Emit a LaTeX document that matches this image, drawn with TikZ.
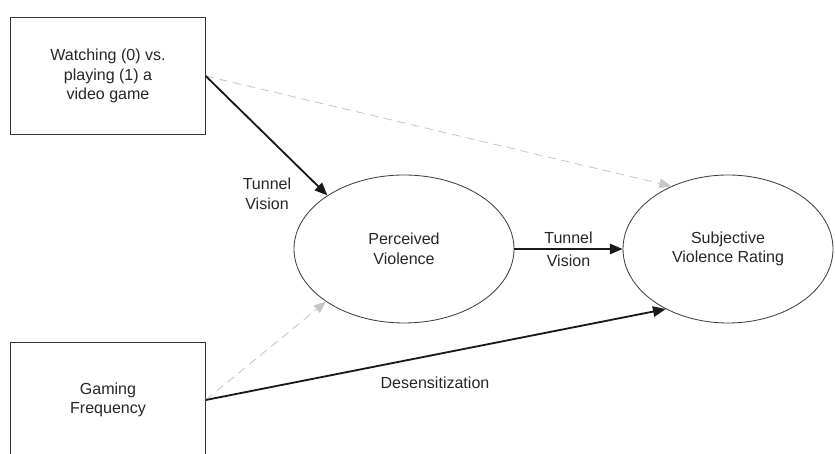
\documentclass[tikz,border=0pt]{standalone}
\usepackage{fontspec}
\setmainfont{Liberation Sans}
\usetikzlibrary{arrows.meta,shapes.geometric}

\begin{document}
\begin{tikzpicture}[
  caja/.style={draw=black!80, line width=0.7pt, minimum width=4.86cm, minimum height=2.9cm, align=center},
  elipse/.style={ellipse, draw=black!75, line width=0.6pt, minimum height=3.7cm, align=center},
  efecto/.style={-{Triangle[length=0.32cm,width=0.26cm]}, line width=1.3pt, black!90},
  nulo/.style={-{Triangle[length=0.3cm,width=0.24cm]}, line width=0.6pt, black!22, dash pattern=on 6pt off 4pt},
  etiqueta/.style={align=center, text=black!85},
  font=\fontsize{11.4}{13.9}\selectfont
]
	% Marco de la figura
	\useasboundingbox (0,0) rectangle (20.875,11.35);
	
	% Cajas de las variables observadas
	\node[caja, text=black!85] (juego) at (2.70,9.45) {Watching (0) vs.\\ playing (1) a\\ video game};
	\node[caja, text=black!85] (frecuencia) at (2.70,1.35) {Gaming\\ Frequency};
	
	% Elipses de los mediadores
	\node[elipse, minimum width=5.5cm, text=black!85] (percibida) at (10.1,5.125) {Perceived\\ Violence};
	\node[elipse, minimum width=5.25cm, text=black!85] (subjetiva) at (18.2,5.125) {Subjective\\ Violence Rating};
	
	% Caminos no significativos
	\draw[nulo] (juego.east) -- (subjetiva.132);
	\draw[nulo] (frecuencia.east) -- (percibida.214);
	
	% Caminos significativos
	\draw[efecto] (juego.east) -- (percibida.145);
	\draw[efecto] (percibida.east) -- node[etiqueta, above] (tunel) {Tunnel} node[etiqueta, below] (vision) {Vision} (subjetiva.west);
	\draw[efecto] (frecuencia.east) -- (subjetiva.224);
	
	% Etiquetas de los caminos
	\node[etiqueta] (tv) at (6.675,6.5) {Tunnel\\ Vision};
	\node[etiqueta] (des) at (10.875,1.775) {Desensitization};
\end{tikzpicture}
\end{document}
